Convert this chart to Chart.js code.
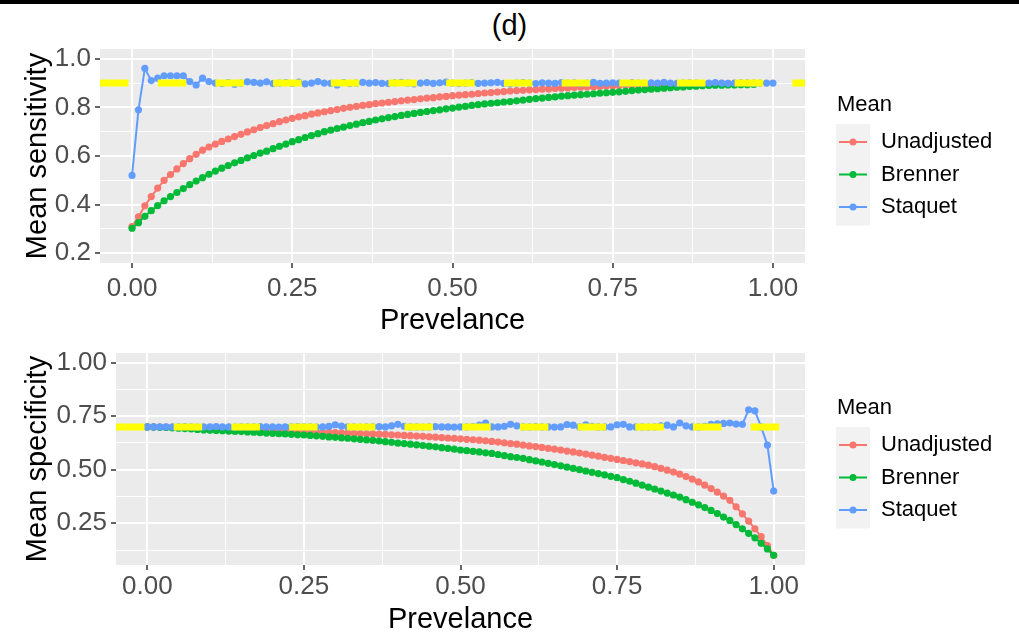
<!DOCTYPE html>
<html>
<head>
<meta charset="utf-8">
<script src="https://cdn.jsdelivr.net/npm/chart.js@4.4.1/dist/chart.umd.min.js"></script>
<style>
  html, body { margin: 0; padding: 0; background: #fff; }
  body { width: 1019px; height: 635px; position: relative; overflow: hidden; font-family: "Liberation Sans", Arial, sans-serif; }
  #rule { position: absolute; left: 0; top: 0; width: 1019px; height: 4px; background: #000; }
  #title { position: absolute; left: 0; top: 8px; width: 1019px; text-align: center; font-size: 29px; line-height: 34px; color: #000; }
  .panel { position: absolute; left: 0; width: 1019px; }
  #sens-wrap { top: 40px; height: 300px; }
  #spec-wrap { top: 340px; height: 295px; }
</style>
</head>
<body>
<div id="rule"></div>
<div id="title">(d)</div>
<div class="panel" id="sens-wrap"><canvas id="sens-chart" width="1019" height="300"></canvas></div>
<div class="panel" id="spec-wrap"><canvas id="spec-chart" width="1019" height="295"></canvas></div>
<script>
// ---- data ----
var PREVALENCE = [
  0.00, 0.01, 0.02, 0.03, 0.04, 0.05, 0.06, 0.07, 0.08, 0.09,
  0.10, 0.11, 0.12, 0.13, 0.14, 0.15, 0.16, 0.17, 0.18, 0.19,
  0.20, 0.21, 0.22, 0.23, 0.24, 0.25, 0.26, 0.27, 0.28, 0.29,
  0.30, 0.31, 0.32, 0.33, 0.34, 0.35, 0.36, 0.37, 0.38, 0.39,
  0.40, 0.41, 0.42, 0.43, 0.44, 0.45, 0.46, 0.47, 0.48, 0.49,
  0.50, 0.51, 0.52, 0.53, 0.54, 0.55, 0.56, 0.57, 0.58, 0.59,
  0.60, 0.61, 0.62, 0.63, 0.64, 0.65, 0.66, 0.67, 0.68, 0.69,
  0.70, 0.71, 0.72, 0.73, 0.74, 0.75, 0.76, 0.77, 0.78, 0.79,
  0.80, 0.81, 0.82, 0.83, 0.84, 0.85, 0.86, 0.87, 0.88, 0.89,
  0.90, 0.91, 0.92, 0.93, 0.94, 0.95, 0.96, 0.97, 0.98, 0.99,
  1.00
];

var SERIES_NAMES = ['Unadjusted', 'Brenner', 'Staquet'];
var LEGEND_TITLE = 'Mean';
var X_TITLE = 'Prevelance';

var SENS_UNADJUSTED = [
  0.310, 0.350, 0.395, 0.433, 0.468, 0.500, 0.524, 0.547, 0.569, 0.589,
  0.607, 0.624, 0.637, 0.649, 0.660, 0.670, 0.680, 0.689, 0.699, 0.708,
  0.717, 0.725, 0.733, 0.741, 0.748, 0.755, 0.761, 0.766, 0.772, 0.777,
  0.782, 0.787, 0.791, 0.796, 0.800, 0.804, 0.808, 0.811, 0.815, 0.818,
  0.821, 0.824, 0.827, 0.830, 0.832, 0.835, 0.838, 0.840, 0.843, 0.845,
  0.848, 0.850, 0.852, 0.854, 0.857, 0.859, 0.861, 0.863, 0.865, 0.867,
  0.869, 0.870, 0.872, 0.873, 0.875, 0.876, 0.878, 0.879, 0.880, 0.882,
  0.883, 0.884, 0.885, 0.886, 0.888, 0.889, 0.890, 0.891, 0.891, 0.892,
  0.893, 0.894, 0.894, 0.895, 0.895, 0.896, 0.896, 0.897, 0.897, 0.898,
  0.898, 0.898, 0.899, 0.899, 0.899, 0.899, 0.900, 0.900, null, null,
  null
];
var SENS_BRENNER = [
  0.303, 0.326, 0.352, 0.375, 0.396, 0.416, 0.433, 0.450, 0.466, 0.482,
  0.497, 0.511, 0.525, 0.538, 0.550, 0.561, 0.572, 0.582, 0.592, 0.602,
  0.612, 0.620, 0.630, 0.640, 0.649, 0.659, 0.667, 0.676, 0.684, 0.692,
  0.700, 0.706, 0.713, 0.719, 0.725, 0.731, 0.737, 0.742, 0.748, 0.753,
  0.758, 0.762, 0.767, 0.771, 0.775, 0.779, 0.783, 0.787, 0.790, 0.794,
  0.797, 0.801, 0.804, 0.808, 0.811, 0.814, 0.817, 0.819, 0.822, 0.824,
  0.827, 0.830, 0.833, 0.836, 0.838, 0.841, 0.843, 0.846, 0.848, 0.850,
  0.852, 0.854, 0.856, 0.858, 0.860, 0.862, 0.864, 0.866, 0.869, 0.871,
  0.873, 0.875, 0.877, 0.879, 0.881, 0.883, 0.884, 0.886, 0.887, 0.889,
  0.890, 0.891, 0.891, 0.892, 0.892, 0.893, 0.893, 0.894, null, null,
  null
];
var SENS_STAQUET = [
  0.520, 0.790, 0.960, 0.910, 0.920, 0.930, 0.930, 0.930, 0.930, 0.906,
  0.892, 0.920, 0.906, 0.900, 0.898, 0.902, 0.895, 0.900, 0.905, 0.903,
  0.900, 0.905, 0.898, 0.900, 0.902, 0.899, 0.904, 0.897, 0.900, 0.906,
  0.900, 0.899, 0.892, 0.902, 0.898, 0.900, 0.903, 0.900, 0.902, 0.899,
  0.898, 0.901, 0.903, 0.900, 0.897, 0.900, 0.902, 0.899, 0.901, 0.904,
  0.900, 0.898, 0.900, 0.902, 0.899, 0.900, 0.901, 0.903, 0.899, 0.897,
  0.900, 0.902, 0.900, 0.898, 0.901, 0.900, 0.899, 0.902, 0.900, 0.901,
  0.898, 0.900, 0.903, 0.899, 0.900, 0.901, 0.900, 0.898, 0.902, 0.900,
  0.899, 0.901, 0.900, 0.903, 0.900, 0.899, 0.900, 0.901, 0.900, 0.898,
  0.900, 0.902, 0.900, 0.899, 0.900, 0.901, 0.900, 0.899, 0.900, 0.900,
  0.900
];

var SPEC_UNADJUSTED = [
  0.700, 0.700, 0.699, 0.699, 0.698, 0.698, 0.697, 0.696, 0.695, 0.694,
  0.693, 0.692, 0.691, 0.690, 0.689, 0.688, 0.687, 0.686, 0.685, 0.684,
  0.683, 0.682, 0.681, 0.680, 0.679, 0.678, 0.677, 0.676, 0.675, 0.674,
  0.673, 0.672, 0.671, 0.670, 0.669, 0.668, 0.667, 0.666, 0.665, 0.663,
  0.662, 0.660, 0.659, 0.657, 0.656, 0.654, 0.652, 0.650, 0.648, 0.646,
  0.644, 0.642, 0.640, 0.638, 0.635, 0.632, 0.629, 0.626, 0.622, 0.619,
  0.615, 0.611, 0.608, 0.604, 0.600, 0.596, 0.592, 0.587, 0.583, 0.578,
  0.573, 0.568, 0.563, 0.558, 0.553, 0.548, 0.543, 0.538, 0.532, 0.527,
  0.521, 0.514, 0.506, 0.498, 0.489, 0.479, 0.468, 0.456, 0.443, 0.428,
  0.412, 0.395, 0.377, 0.357, 0.327, 0.294, 0.260, 0.224, 0.188, 0.146,
  0.100
];
var SPEC_BRENNER = [
  0.700, 0.699, 0.698, 0.697, 0.695, 0.694, 0.692, 0.690, 0.688, 0.686,
  0.684, 0.683, 0.682, 0.680, 0.679, 0.678, 0.676, 0.675, 0.673, 0.671,
  0.670, 0.668, 0.667, 0.665, 0.663, 0.662, 0.660, 0.658, 0.656, 0.653,
  0.651, 0.649, 0.647, 0.644, 0.642, 0.639, 0.637, 0.634, 0.631, 0.628,
  0.624, 0.622, 0.619, 0.616, 0.613, 0.610, 0.607, 0.603, 0.600, 0.596,
  0.592, 0.589, 0.586, 0.583, 0.579, 0.576, 0.571, 0.566, 0.561, 0.557,
  0.553, 0.547, 0.541, 0.536, 0.530, 0.524, 0.518, 0.512, 0.506, 0.500,
  0.494, 0.488, 0.482, 0.476, 0.469, 0.463, 0.454, 0.446, 0.437, 0.428,
  0.419, 0.410, 0.400, 0.391, 0.382, 0.372, 0.360, 0.348, 0.336, 0.323,
  0.310, 0.295, 0.279, 0.263, 0.244, 0.224, 0.203, 0.182, 0.156, 0.130,
  0.100
];
var SPEC_STAQUET = [
  0.700, 0.700, 0.700, 0.700, 0.700, 0.700, 0.701, 0.700, 0.699, 0.700,
  0.700, 0.701, 0.700, 0.700, 0.699, 0.700, 0.700, 0.700, 0.701, 0.700,
  0.700, 0.699, 0.700, 0.700, 0.701, 0.700, 0.700, 0.699, 0.700, 0.702,
  0.710, 0.704, 0.700, 0.700, 0.699, 0.700, 0.700, 0.701, 0.700, 0.705,
  0.712, 0.703, 0.700, 0.700, 0.699, 0.700, 0.701, 0.700, 0.700, 0.699,
  0.700, 0.700, 0.701, 0.708, 0.718, 0.700, 0.700, 0.703, 0.712, 0.705,
  0.700, 0.700, 0.701, 0.700, 0.700, 0.699, 0.700, 0.711, 0.708, 0.700,
  0.710, 0.703, 0.700, 0.700, 0.700, 0.710, 0.712, 0.700, 0.700, 0.700,
  0.699, 0.700, 0.705, 0.708, 0.700, 0.718, 0.705, 0.700, 0.700, 0.703,
  0.712, 0.714, 0.716, 0.718, 0.713, 0.712, 0.780, 0.775, 0.700, 0.615,
  0.400
];

var TRUE_SENSITIVITY = 0.9;
var TRUE_SPECIFICITY = 0.7;

var X_MAJOR = [0, 0.25, 0.5, 0.75, 1];
var X_MINOR = [0.125, 0.375, 0.625, 0.875];
var X_LABELS = ['0.00', '0.25', '0.50', '0.75', '1.00'];

var SENS_Y_MAJOR = [0.2, 0.4, 0.6, 0.8, 1.0];
var SENS_Y_MINOR = [0.3, 0.5, 0.7, 0.9];
var SENS_Y_LABELS = ['0.2', '0.4', '0.6', '0.8', '1.0'];

var SPEC_Y_MAJOR = [0.25, 0.5, 0.75, 1.0];
var SPEC_Y_MINOR = [0.125, 0.375, 0.625, 0.875];
var SPEC_Y_LABELS = ['0.25', '0.50', '0.75', '1.00'];

var COLORS = ['#F8766D', '#00BA38', '#619CFF'];
var REF_COLOR = '#FFFF00';
var FONT = '"Liberation Sans", Arial, sans-serif';

// ---- helpers ----
function isMajor(list, v) {
  return list.some(function (m) { return Math.abs(m - v) < 1e-9; });
}

function labelFor(majors, labels, v) {
  for (var i = 0; i < majors.length; i++) {
    if (Math.abs(majors[i] - v) < 1e-9) return labels[i];
  }
  return '';
}

function points(values) {
  return PREVALENCE.map(function (x, i) {
    return { x: x, y: values[i] };
  });
}

function clearScalePadding(s) {
  s.paddingTop = 0;
  s.paddingBottom = 0;
  s.paddingLeft = 0;
  s.paddingRight = 0;
}

var panelBackground = {
  id: 'panelBackground',
  beforeDraw: function (chart) {
    var a = chart.chartArea;
    var ctx = chart.ctx;
    ctx.save();
    ctx.fillStyle = '#EBEBEB';
    ctx.fillRect(a.left, a.top, a.right - a.left, a.bottom - a.top);
    ctx.restore();
  }
};

// ggplot-style legend drawn beside the panel
var sideLegend = {
  id: 'sideLegend',
  afterDraw: function (chart, args, opts) {
    var ctx = chart.ctx;
    var x0 = 836;
    ctx.save();
    ctx.textBaseline = 'middle';
    ctx.textAlign = 'left';
    ctx.font = '22px ' + FONT;
    ctx.fillStyle = '#000';
    ctx.fillText(LEGEND_TITLE, x0 + 1, opts.titleY);

    ctx.fillStyle = '#F2F2F2';
    ctx.fillRect(x0, opts.firstY - 18, 34, 32.5 * 3 + 4);

    chart.data.datasets.slice(0, 3).forEach(function (ds, i) {
      var y = opts.firstY + i * 32.5;
      ctx.strokeStyle = ds.borderColor;
      ctx.lineWidth = 2;
      ctx.beginPath();
      ctx.moveTo(x0 + 3, y);
      ctx.lineTo(x0 + 31, y);
      ctx.stroke();
      ctx.fillStyle = ds.borderColor;
      ctx.beginPath();
      ctx.arc(x0 + 17, y, 3.5, 0, Math.PI * 2);
      ctx.fill();
      ctx.fillStyle = '#000';
      ctx.fillText(ds.label, x0 + 45, y);
    });
    ctx.restore();
  }
};

function buildPanel(canvasId, cfg) {
  var datasets = cfg.series.map(function (values, i) {
    return {
      label: SERIES_NAMES[i],
      data: points(values),
      borderColor: COLORS[i],
      backgroundColor: COLORS[i],
      pointBackgroundColor: COLORS[i],
      pointBorderWidth: 0,
      pointRadius: 3.6,
      borderWidth: 2,
      tension: 0,
      order: 4 - i
    };
  });
  datasets.push({
    label: 'reference',
    data: [{ x: -0.05, y: cfg.reference }, { x: 1.05, y: cfg.reference }],
    borderColor: REF_COLOR,
    borderWidth: 7,
    borderDash: [28.5, 29.2],
    pointRadius: 0,
    order: 0
  });

  return new Chart(document.getElementById(canvasId), {
    type: 'line',
    data: { datasets: datasets },
    plugins: [panelBackground, sideLegend],
    options: {
      responsive: false,
      animation: false,
      devicePixelRatio: 1,
      layout: { padding: { left: 0, right: 214, top: cfg.padTop, bottom: cfg.padBottom } },
      plugins: {
        legend: { display: false },
        tooltip: { enabled: false },
        sideLegend: { titleY: cfg.legendTitleY, firstY: cfg.legendFirstY }
      },
      scales: {
        x: {
          type: 'linear',
          min: -0.05,
          max: 1.05,
          afterFit: function (s) {
            s.height = cfg.xAxisHeight;
            clearScalePadding(s);
          },
          afterBuildTicks: function (s) {
            s.ticks = X_MAJOR.concat(X_MINOR).sort(function (a, b) { return a - b; })
              .map(function (v) { return { value: v }; });
          },
          border: { display: false },
          grid: {
            color: '#FFFFFF',
            lineWidth: function (c) { return isMajor(X_MAJOR, c.tick.value) ? 2 : 1; },
            tickColor: function (c) { return isMajor(X_MAJOR, c.tick.value) ? '#333333' : 'rgba(0,0,0,0)'; },
            tickLength: 5,
            tickWidth: 1.5
          },
          ticks: {
            autoSkip: false,
            maxRotation: 0,
            padding: cfg.xTickPad,
            color: '#4D4D4D',
            font: { family: FONT, size: 26 },
            callback: function (v) { return labelFor(X_MAJOR, X_LABELS, v); }
          },
          title: {
            display: true,
            text: X_TITLE,
            color: '#000',
            font: { family: FONT, size: 29 },
            padding: { top: 0, bottom: cfg.xTitlePad }
          }
        },
        y: {
          type: 'linear',
          min: cfg.yMin,
          max: cfg.yMax,
          afterFit: function (s) {
            s.width = cfg.yAxisWidth;
            clearScalePadding(s);
          },
          afterBuildTicks: function (s) {
            s.ticks = cfg.yMajor.concat(cfg.yMinor).sort(function (a, b) { return a - b; })
              .map(function (v) { return { value: v }; });
          },
          border: { display: false },
          grid: {
            color: '#FFFFFF',
            lineWidth: function (c) { return isMajor(cfg.yMajor, c.tick.value) ? 2 : 1; },
            tickColor: function (c) { return isMajor(cfg.yMajor, c.tick.value) ? '#333333' : 'rgba(0,0,0,0)'; },
            tickLength: 5,
            tickWidth: 1.5
          },
          ticks: {
            autoSkip: false,
            padding: 4,
            color: '#4D4D4D',
            font: { family: FONT, size: 26 },
            callback: function (v) { return labelFor(cfg.yMajor, cfg.yLabels, v); }
          },
          title: {
            display: true,
            text: cfg.yTitle,
            color: '#000',
            font: { family: FONT, size: 29 },
            padding: { top: 21, bottom: 0 }
          }
        }
      }
    }
  });
}

buildPanel('sens-chart', {
  series: [SENS_UNADJUSTED, SENS_BRENNER, SENS_STAQUET],
  reference: TRUE_SENSITIVITY,
  yTitle: 'Mean sensitivity',
  yMin: 0.16,
  yMax: 1.04,
  yMajor: SENS_Y_MAJOR,
  yMinor: SENS_Y_MINOR,
  yLabels: SENS_Y_LABELS,
  yAxisWidth: 100,
  xAxisHeight: 77,
  padTop: 9,
  padBottom: 0,
  xTickPad: 5,
  xTitlePad: 2,
  legendTitleY: 65,
  legendFirstY: 102
});

buildPanel('spec-chart', {
  series: [SPEC_UNADJUSTED, SPEC_BRENNER, SPEC_STAQUET],
  reference: TRUE_SPECIFICITY,
  yTitle: 'Mean specificity',
  yMin: 0.055,
  yMax: 1.045,
  yMajor: SPEC_Y_MAJOR,
  yMinor: SPEC_Y_MINOR,
  yLabels: SPEC_Y_LABELS,
  yAxisWidth: 116,
  xAxisHeight: 72,
  padTop: 13,
  padBottom: -2,
  xTickPad: 1,
  xTitlePad: 0,
  legendTitleY: 68,
  legendFirstY: 105
});
</script>
</body>
</html>
